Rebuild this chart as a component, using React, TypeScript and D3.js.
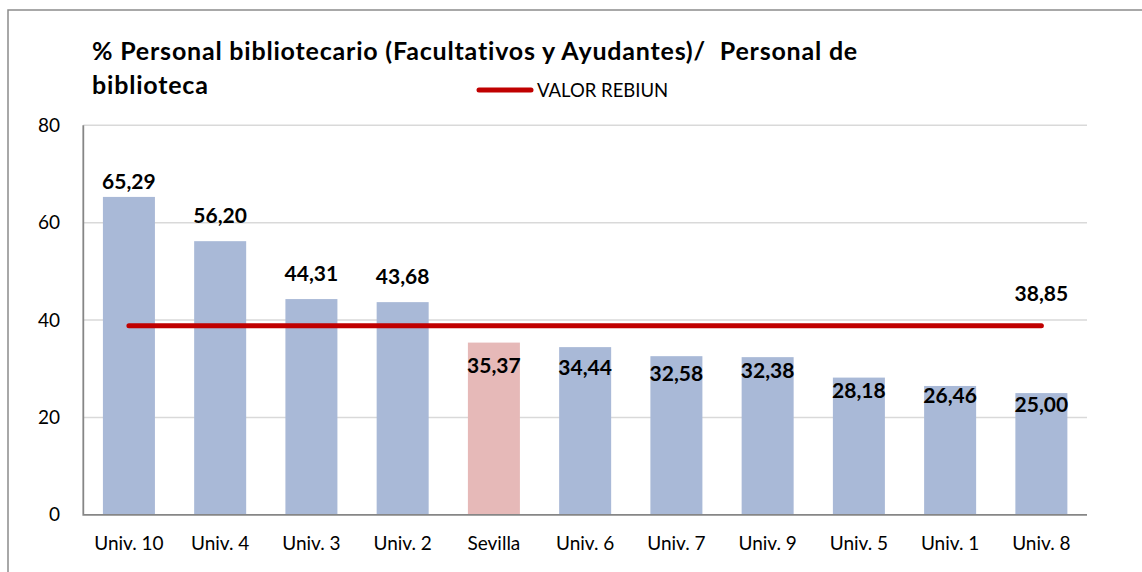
import React, { useEffect, useRef } from 'react';
import * as d3 from 'd3';

const categories = ['Univ. 10', 'Univ. 4', 'Univ. 3', 'Univ. 2', 'Sevilla', 'Univ. 6', 'Univ. 7', 'Univ. 9', 'Univ. 5', 'Univ. 1', 'Univ. 8'];
const values = [65.29, 56.2, 44.31, 43.68, 35.37, 34.44, 32.58, 32.38, 28.18, 26.46, 25.0];
const rebiun = 38.85;
const yTicks = [0, 20, 40, 60, 80];
const highlight = 'Sevilla';

const FONT = "Lato, 'Open Sans', sans-serif";

const App = () => {
  const ref = useRef<SVGSVGElement>(null);

  useEffect(() => {
    const svg = d3.select(ref.current);
    svg.selectAll('*').remove();

    const left = 83.3, right = 1087, top = 125.3, bottom = 514.8;

    const x = d3.scaleBand().domain(categories).range([left, right]).paddingInner(0.43).paddingOuter(0.215);
    const y = d3.scaleLinear().domain([0, 80]).range([bottom, top]);

    // outer frame (only top and left edges are visible)
    svg.append('path')
      .attr('d', `M8,572 V10 H1142`)
      .attr('fill', 'none')
      .attr('stroke', '#8c8c8c')
      .attr('stroke-width', 1.5);

    // title
    const title = svg.append('text')
      .style('font', `bold 25px ${FONT}`)
      .style('letter-spacing', '0.8px')
      .attr('xml:space', 'preserve')
      .attr('fill', '#000');
    title.append('tspan').attr('x', 92).attr('y', 59.5).text('% Personal bibliotecario (Facultativos y Ayudantes)/  Personal de');
    title.append('tspan').attr('x', 92).attr('y', 94).text('biblioteca');

    // legend
    svg.append('line')
      .attr('x1', 479).attr('x2', 531).attr('y1', 90).attr('y2', 90)
      .attr('stroke', '#c00000').attr('stroke-width', 5).attr('stroke-linecap', 'round');
    svg.append('text')
      .attr('x', 537).attr('y', 97)
      .style('font', `18.5px ${FONT}`)
      .attr('fill', '#000')
      .text('VALOR REBIUN');

    // gridlines
    svg.selectAll('.grid')
      .data(yTicks.filter((t) => t > 0))
      .enter().append('line')
      .attr('x1', left).attr('x2', right)
      .attr('y1', (d) => y(d)).attr('y2', (d) => y(d))
      .attr('stroke', '#d9d9d9').attr('stroke-width', 1.5);

    // y tick labels
    svg.selectAll('.ytick')
      .data(yTicks)
      .enter().append('text')
      .attr('x', 60)
      .attr('y', (d) => y(d))
      .attr('dy', '0.35em')
      .attr('text-anchor', 'end')
      .style('font', `19px ${FONT}`)
      .attr('fill', '#000')
      .text((d) => d);

    // bars
    svg.selectAll('.bar')
      .data(values)
      .enter().append('rect')
      .attr('x', (d, i) => x(categories[i]))
      .attr('y', (d) => y(d))
      .attr('width', x.bandwidth())
      .attr('height', (d) => bottom - y(d))
      .attr('fill', (d, i) => (categories[i] === highlight ? '#e6b9b8' : '#a9b9d7'));

    // axes lines
    svg.append('path')
      .attr('d', `M${left},${top} V${bottom} H${right}`)
      .attr('fill', 'none')
      .attr('stroke', '#868686')
      .attr('stroke-width', 1.8);

    // x labels
    svg.selectAll('.xlab')
      .data(categories)
      .enter().append('text')
      .attr('x', (d) => x(d) + x.bandwidth() / 2)
      .attr('y', 550)
      .attr('text-anchor', 'middle')
      .style('font', `19px ${FONT}`)
      .attr('fill', '#000')
      .text((d) => d);

    // REBIUN line
    const cx = (c) => x(c) + x.bandwidth() / 2;
    svg.append('line')
      .attr('x1', cx(categories[0])).attr('x2', cx(categories[categories.length - 1]))
      .attr('y1', y(rebiun)).attr('y2', y(rebiun))
      .attr('stroke', '#c00000').attr('stroke-width', 5).attr('stroke-linecap', 'round');

    const fmt = (v) => d3.format('.2f')(v).replace('.', ',');

    // data labels (baseline offset from bar top, as placed in the original)
    const labelDy = [-8, -18, -18, -18, 30, 28, 25, 21, 20, 17, 19];
    svg.selectAll('.vlab')
      .data(values)
      .enter().append('text')
      .attr('x', (d, i) => cx(categories[i]))
      .attr('y', (d, i) => y(d) + labelDy[i])
      .attr('text-anchor', 'middle')
      .style('font', `bold 21px ${FONT}`)
      .attr('fill', '#000')
      .text((d) => fmt(d));

    svg.append('text')
      .attr('x', cx(categories[categories.length - 1]))
      .attr('y', y(rebiun) - 25)
      .attr('text-anchor', 'middle')
      .style('font', `bold 21px ${FONT}`)
      .attr('fill', '#000')
      .text(fmt(rebiun));
  }, []);

  return (
    <svg
      ref={ref}
      width={1142}
      height={572}
      style={{ position: 'absolute', left: 0, top: 0, background: '#fff' }}
    />
  );
};

export default App;
